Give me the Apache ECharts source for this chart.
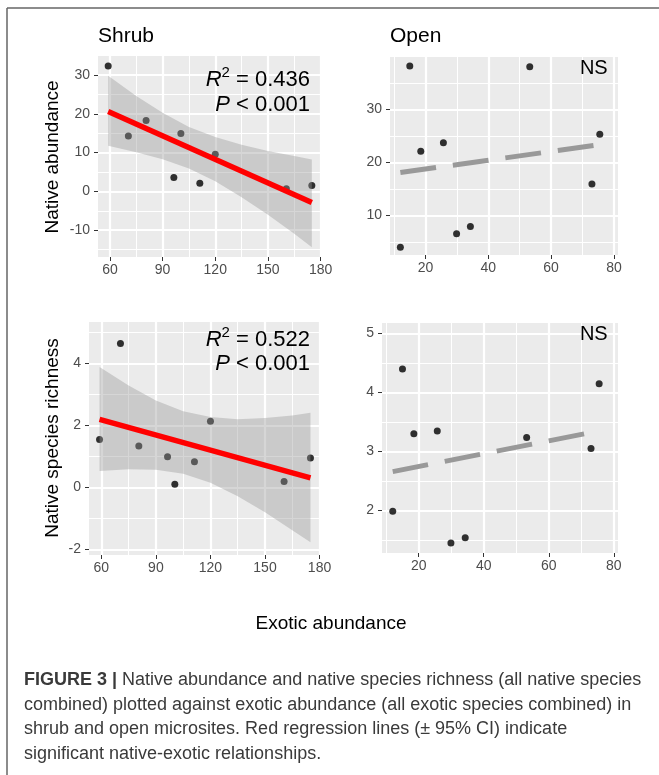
<!DOCTYPE html>
<html><head><meta charset="utf-8">
<script src="https://cdn.jsdelivr.net/npm/echarts@6/dist/echarts.min.js"></script>
<style>html,body{margin:0;padding:0;background:#fff}#c{width:659px;height:775px}</style>
</head><body><div id="c"></div>
<script>
// ---- data ----
const shrubExotic      = [59, 70.5, 80.6, 96.4, 100.4, 111.2, 120, 160.5, 175];
const shrubNativeAbund = [32.3, 14.3, 18.3, 3.6, 14.9, 2.1, 9.6, 0.7, 1.5];
const shrubNativeRich  = [1.55, 4.65, 1.34, 0.99, 0.10, 0.83, 2.14, 0.19, 0.95];
const openExotic       = [12.0, 15.0, 18.5, 25.7, 29.9, 34.3, 53.2, 73.0, 75.5];
const openNativeAbund  = [3.96, 38.2, 22.1, 23.7, 6.5, 7.9, 38.05, 15.9, 25.3];
const openNativeRich   = [1.99, 4.40, 3.30, 3.35, 1.45, 1.54, 3.24, 3.05, 4.15];

// fitted lines (end points)
const shrubFitX = [59, 175];
const shrubAbundFitY = [20.6, -2.85];
const shrubRichFitY  = [2.20, 0.31];
const openFitX = [12.0, 75.5];
const openAbundFitY = [18.07, 23.35];
const openRichFitY  = [2.66, 3.35];

// 95% CI ribbons (read at several x positions)
const ciX = [59, 75, 90, 105, 120, 135, 150, 165, 175];
const shrubAbundUpper = [29.8, 24.6, 20.3, 16.6, 14.0, 12.0, 10.4, 9.1, 8.2];
const shrubAbundLower = [11.8, 10.1, 8.3, 5.9, 2.6, -1.5, -6.0, -10.9, -14.4];
const shrubRichUpper  = [3.89, 3.29, 2.81, 2.46, 2.27, 2.20, 2.24, 2.32, 2.41];
const shrubRichLower  = [0.53, 0.59, 0.57, 0.44, 0.15, -0.28, -0.80, -1.38, -1.77];

// ticks
const shrubXTicks = [60, 90, 120, 150, 180];
const shrubXMinor = [75, 105, 135, 165];
const openXTicks = [20, 40, 60, 80];
const openXMinor = [10, 30, 50, 70];
const abundShrubYTicks = [-10, 0, 10, 20, 30];
const abundShrubYMinor = [-15, -5, 5, 15, 25];
const abundOpenYTicks = [10, 20, 30];
const abundOpenYMinor = [5, 15, 25, 35];
const richShrubYTicks = [-2, 0, 2, 4];
const richShrubYMinor = [-1, 1, 3, 5];
const richOpenYTicks = [2, 3, 4, 5];
const richOpenYMinor = [1.5, 2.5, 3.5, 4.5];

// ---- chart ----
const FONT = '"Liberation Sans", Arial, sans-serif';
const chart = echarts.init(document.getElementById('c'), null, {renderer: 'canvas'});

const panels = [
  {grid: {left: 98, top: 56, width: 224, height: 201}, x: [53.2, 180.8], y: [-16.9, 34.9],
   xt: shrubXTicks, xm: shrubXMinor, yt: abundShrubYTicks, ym: abundShrubYMinor},
  {grid: {left: 390, top: 57, width: 228, height: 198}, x: [8.7, 81.3], y: [2.5, 39.9],
   xt: openXTicks, xm: openXMinor, yt: abundOpenYTicks, ym: abundOpenYMinor},
  {grid: {left: 89, top: 322, width: 232, height: 233}, x: [53.2, 180.8], y: [-2.18, 5.34],
   xt: shrubXTicks, xm: shrubXMinor, yt: richShrubYTicks, ym: richShrubYMinor},
  {grid: {left: 382, top: 323, width: 236, height: 230}, x: [8.7, 81.3], y: [1.28, 5.18],
   xt: openXTicks, xm: openXMinor, yt: richOpenYTicks, ym: richOpenYMinor}
];

const MAJOR_W = 2.2, MINOR_W = 1.1;
const grids = [], xAxes = [], yAxes = [], xMinorAxes = [], yMinorAxes = [], series = [];
panels.forEach((p, i) => {
  grids.push(Object.assign({show: true, z: 0, backgroundColor: '#EBEBEB', borderWidth: 0}, p.grid));
  const common = {type: 'value', gridIndex: i, z: 1, axisLine: {show: false, onZero: false}};
  xAxes.push(Object.assign({}, common, {
    min: p.x[0], max: p.x[1], position: 'bottom',
    splitLine: {show: true, lineStyle: {color: '#FFFFFF', width: MAJOR_W}},
    axisTick: {show: true, length: 4, lineStyle: {color: '#333', width: 1}, customValues: p.xt},
    axisLabel: {customValues: p.xt, color: '#4D4D4D', fontSize: 14, margin: 6, fontFamily: FONT}
  }));
  yAxes.push(Object.assign({}, common, {
    min: p.y[0], max: p.y[1], position: 'left',
    splitLine: {show: true, lineStyle: {color: '#FFFFFF', width: MAJOR_W}},
    axisTick: {show: true, length: 4, lineStyle: {color: '#333', width: 1}, customValues: p.yt},
    axisLabel: {customValues: p.yt, color: '#4D4D4D', fontSize: 14, margin: 8, fontFamily: FONT}
  }));
  // companion axes only used for the thinner minor grid lines
  xMinorAxes.push(Object.assign({}, common, {
    min: p.x[0], max: p.x[1], position: 'top',
    splitLine: {show: true, lineStyle: {color: '#FFFFFF', width: MINOR_W}},
    axisTick: {show: false, customValues: p.xm}, axisLabel: {show: false, customValues: p.xm}
  }));
  yMinorAxes.push(Object.assign({}, common, {
    min: p.y[0], max: p.y[1], position: 'right',
    splitLine: {show: true, lineStyle: {color: '#FFFFFF', width: MINOR_W}},
    axisTick: {show: false, customValues: p.ym}, axisLabel: {show: false, customValues: p.ym}
  }));
});

function scatter(idx, xs, ys) {
  return {type: 'scatter', xAxisIndex: idx, yAxisIndex: idx, z: 6, silent: true,
    symbol: 'circle', symbolSize: 7, itemStyle: {color: '#000'},
    data: xs.map((x, k) => [x, ys[k]])};
}
function ribbon(idx, xs, lo, hi) {
  return {type: 'custom', xAxisIndex: idx, yAxisIndex: idx, z: 7, silent: true, animation: false,
    data: xs.map((x, k) => [x, lo[k], hi[k]]),
    encode: {x: 0, y: [1, 2]},
    renderItem: (params, api) => {
      if (params.dataIndex !== 0) return {type: 'group', children: []};
      const pts = [];
      for (let k = 0; k < xs.length; k++) pts.push(api.coord([xs[k], hi[k]]));
      for (let k = xs.length - 1; k >= 0; k--) pts.push(api.coord([xs[k], lo[k]]));
      return {type: 'polygon', shape: {points: pts}, style: {fill: 'rgba(153,153,153,0.4)'}};
    }};
}
function fit(idx, xs, ys, dashed) {
  return {type: 'line', xAxisIndex: idx, yAxisIndex: idx, z: 8, silent: true,
    symbol: 'none', animation: false,
    lineStyle: dashed ? {color: '#999999', width: 5, type: [36, 17], cap: 'butt'}
                      : {color: '#FF0000', width: 5.5, cap: 'butt'},
    data: xs.map((x, k) => [x, ys[k]])};
}

series.push(
  scatter(0, shrubExotic, shrubNativeAbund),
  ribbon(0, ciX, shrubAbundLower, shrubAbundUpper),
  fit(0, shrubFitX, shrubAbundFitY, false),
  scatter(1, openExotic, openNativeAbund),
  fit(1, openFitX, openAbundFitY, true),
  scatter(2, shrubExotic, shrubNativeRich),
  ribbon(2, ciX, shrubRichLower, shrubRichUpper),
  fit(2, shrubFitX, shrubRichFitY, false),
  scatter(3, openExotic, openNativeRich),
  fit(3, openFitX, openRichFitY, true)
);

const statRich = {
  i: {fontStyle: 'italic', fontSize: 22, fontFamily: FONT, color: '#000', lineHeight: 28},
  s: {fontSize: 15, fontFamily: FONT, color: '#000', lineHeight: 15, verticalAlign: 'top'},
  n: {fontSize: 22, fontFamily: FONT, color: '#000', lineHeight: 28}
};
function stat(x, y, txt) {
  return {type: 'text', x: x, y: y, silent: true, z: 100,
    style: {text: txt, rich: statRich, align: 'right', verticalAlign: 'middle'}};
}
function plain(x, y, txt, size, align, extra) {
  return Object.assign({type: 'text', x: x, y: y, silent: true, z: 100,
    style: {text: txt, fontSize: size, fontFamily: FONT, fill: '#000',
            align: align, verticalAlign: 'middle'}}, extra || {});
}

const capRich = {
  b: {fontWeight: 'bold', fontSize: 18, fontFamily: FONT, color: '#222'},
  n: {fontSize: 18, fontFamily: FONT, color: '#3a3a3a'}
};
function capLine(y, txt) {
  return {type: 'text', x: 24, y: y, silent: true,
    style: {text: txt, rich: capRich, fontSize: 18, fontFamily: FONT, fill: '#3a3a3a',
            align: 'left', verticalAlign: 'middle'}};
}

const graphics = [
  {type: 'line', silent: true, shape: {x1: 7, y1: 8, x2: 659, y2: 8}, style: {stroke: '#666', lineWidth: 1.5}},
  {type: 'line', silent: true, shape: {x1: 7, y1: 8, x2: 7, y2: 775}, style: {stroke: '#666', lineWidth: 1.5}},
  plain(98, 36, 'Shrub', 21, 'left'),
  plain(390, 36, 'Open', 21, 'left'),
  plain(53, 157, 'Native abundance', 19, 'center', {rotation: Math.PI / 2}),
  plain(53, 438, 'Native species richness', 19, 'center', {rotation: Math.PI / 2}),
  plain(331, 624, 'Exotic abundance', 19, 'center'),
  stat(310, 79.5, '{i|R}{s|2}{n| = 0.436}'),
  stat(310, 105, '{i|P}{n| < 0.001}'),
  stat(310, 339.7, '{i|R}{s|2}{n| = 0.522}'),
  stat(310, 364, '{i|P}{n| < 0.001}'),
  plain(607.7, 68.3, 'NS', 20, 'right'),
  plain(607.7, 334.5, 'NS', 20, 'right'),
  capLine(680, '{b|FIGURE 3 |}{n| Native abundance and native species richness (all native species}'),
  capLine(705, '{n|combined) plotted against exotic abundance (all exotic species combined) in}'),
  capLine(729.5, '{n|shrub and open microsites. Red regression lines (± 95% CI) indicate}'),
  capLine(754, '{n|significant native-exotic relationships.}')
];

chart.setOption({
  animation: false,
  backgroundColor: '#FFFFFF',
  grid: grids,
  xAxis: xAxes.concat(xMinorAxes),
  yAxis: yAxes.concat(yMinorAxes),
  series: series,
  graphic: graphics
});
</script></body></html>
